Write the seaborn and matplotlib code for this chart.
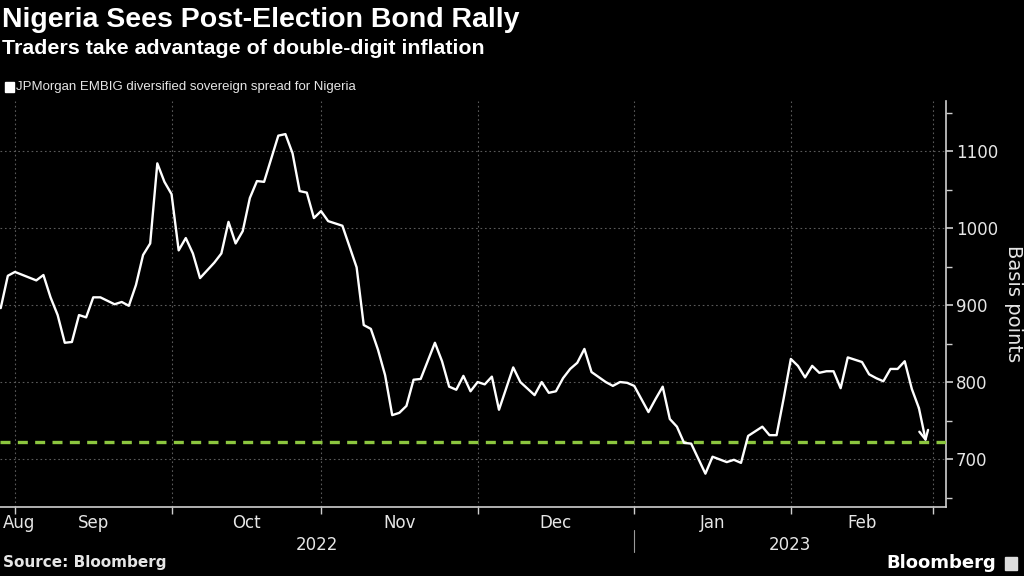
import numpy as np
import pandas as pd
import seaborn as sns
import matplotlib.pyplot as plt
from matplotlib.patches import Rectangle
from matplotlib.lines import Line2D
from matplotlib.ticker import FixedLocator, NullFormatter

# JPMorgan EMBIG diversified sovereign spread for Nigeria (basis points)
dates = [
    "2022-08-30", "2022-08-31", "2022-09-01", "2022-09-06", "2022-09-07", "2022-09-08",
    "2022-09-09", "2022-09-12", "2022-09-13", "2022-09-14", "2022-09-15", "2022-09-16",
    "2022-09-19", "2022-09-21", "2022-09-22", "2022-09-23", "2022-09-26", "2022-09-27",
    "2022-09-28", "2022-09-29", "2022-09-30", "2022-10-03", "2022-10-04", "2022-10-05",
    "2022-10-06", "2022-10-07", "2022-10-11", "2022-10-12", "2022-10-13", "2022-10-14",
    "2022-10-17", "2022-10-18", "2022-10-19", "2022-10-20", "2022-10-24", "2022-10-25",
    "2022-10-26", "2022-10-27", "2022-10-28", "2022-10-31", "2022-11-01", "2022-11-02",
    "2022-11-03", "2022-11-04", "2022-11-08", "2022-11-09", "2022-11-10", "2022-11-11",
    "2022-11-14", "2022-11-15", "2022-11-16", "2022-11-17", "2022-11-18", "2022-11-21",
    "2022-11-23", "2022-11-24", "2022-11-25", "2022-11-28", "2022-11-29", "2022-11-30",
    "2022-12-01", "2022-12-02", "2022-12-05", "2022-12-06", "2022-12-08", "2022-12-09",
    "2022-12-13", "2022-12-14", "2022-12-15", "2022-12-16", "2022-12-19", "2022-12-20",
    "2022-12-21", "2022-12-22", "2022-12-23", "2022-12-27", "2022-12-28", "2022-12-29",
    "2022-12-30", "2023-01-02", "2023-01-03", "2023-01-04", "2023-01-05", "2023-01-06",
    "2023-01-09", "2023-01-10", "2023-01-11", "2023-01-12", "2023-01-16", "2023-01-17",
    "2023-01-19", "2023-01-20", "2023-01-23", "2023-01-24", "2023-01-26", "2023-01-27",
    "2023-01-30", "2023-01-31", "2023-02-01", "2023-02-02", "2023-02-03", "2023-02-06",
    "2023-02-07", "2023-02-08", "2023-02-09", "2023-02-10", "2023-02-13", "2023-02-15",
    "2023-02-16", "2023-02-17", "2023-02-20", "2023-02-21", "2023-02-22", "2023-02-23",
    "2023-02-24", "2023-02-27", "2023-02-28",
]
spread = [
    896, 938, 943, 932, 939, 910,
    887, 851, 852, 887, 884, 910,
    910, 901, 904, 899, 926, 965,
    980, 1084, 1060, 1044, 971, 987,
    967, 935, 955, 967, 1008, 980,
    996, 1039, 1061, 1060, 1120, 1122,
    1097, 1048, 1046, 1013, 1022, 1009,
    1006, 1003, 949, 874, 869, 842,
    809, 757, 760, 769, 803, 804,
    851, 827, 794, 790, 808, 788,
    800, 797, 807, 764, 819, 800,
    783, 800, 786, 788, 805, 817,
    825, 843, 813, 800, 795, 800,
    799, 795, 778, 761, 778, 794,
    752, 742, 721, 720, 681, 703,
    696, 699, 695, 730, 742, 731,
    731, 779, 830, 821, 806, 821,
    812, 814, 814, 792, 832, 826,
    810, 805, 801, 817, 817, 827,
    791, 766, 722,
]
current_level = 722

month_starts = ["2022-08-01", "2022-09-01", "2022-10-01", "2022-11-01", "2022-12-01",
                "2023-01-01", "2023-02-01", "2023-03-01"]
month_labels = ["Aug", "Sep", "Oct", "Nov", "Dec", "Jan", "Feb"]
year_labels = ["2022", "2023"]
y_major = [700, 800, 900, 1000, 1100]
y_minor = [650, 750, 850, 950, 1050, 1150]

FG = "#e6e6e6"
GRID = "#5a5a5a"
GREEN = "#8cc63f"
HEAD = "Liberation Sans"

sns.set_style("dark", {"axes.facecolor": "black", "figure.facecolor": "black"})
plt.rcParams["font.family"] = ["DejaVu Sans"]

# x is measured in business days since the first observation
origin = dates[0]
x = np.busday_count(origin, dates)
df = pd.DataFrame({"x": x, "spread": spread})
bounds = np.busday_count(origin, month_starts)

fig = plt.figure(figsize=(10.24, 5.76), dpi=100)
ax = fig.add_axes([0.0, 1 - 507 / 576, 946 / 1024, (507 - 101) / 576])
ax.set_facecolor("black")

xmin, xmax = -0.1, 132.8
ax.set_xlim(xmin, xmax)
ax.set_ylim(637.7, 1165)

sns.lineplot(data=df.iloc[:-1], x="x", y="spread", ax=ax, color="white", lw=1.7, zorder=4)
ax.annotate("", xy=(df.x.iloc[-1], df.spread.iloc[-1]),
            xytext=(df.x.iloc[-2], df.spread.iloc[-2]),
            arrowprops=dict(arrowstyle="->", color="white", lw=1.7,
                            mutation_scale=16, shrinkA=0, shrinkB=0), zorder=5)
ax.axhline(current_level, color=GREEN, lw=2.4, ls=(0, (3.0, 2.2)), zorder=3)

# grid
for v in y_major:
    ax.axhline(v, color=GRID, lw=0.8, ls=(0, (1.5, 2.5)), zorder=1)
for b in bounds:
    if xmin < b < xmax:
        ax.axvline(b, color=GRID, lw=0.8, ls=(0, (1.5, 2.5)), zorder=1)

# axes styling
for side in ["left", "top"]:
    ax.spines[side].set_visible(False)
for side in ["right", "bottom"]:
    ax.spines[side].set_visible(True)
    ax.spines[side].set_color("#cfcfcf")
    ax.spines[side].set_linewidth(1.2)

ax.yaxis.tick_right()
ax.yaxis.set_major_locator(FixedLocator(y_major))
ax.yaxis.set_minor_locator(FixedLocator(y_minor))
ax.tick_params(axis="y", which="major", right=True, length=5, width=1.2, color="#cfcfcf",
               labelcolor=FG, labelsize=12, pad=2)
ax.tick_params(axis="y", which="minor", right=True, length=4, width=1, color="#cfcfcf")

ax.xaxis.set_major_locator(FixedLocator([b for b in bounds if xmin < b < xmax]))
ax.xaxis.set_major_formatter(NullFormatter())
ax.tick_params(axis="x", which="major", bottom=True, length=5, width=1, color="#cfcfcf")
ax.set_xlabel("")
ax.yaxis.set_label_position("right")
ax.set_ylabel("Basis points", color=FG, fontsize=14, rotation=-90, labelpad=18)

# month labels centred in each month, the first one pinned to the left edge
trans = ax.get_xaxis_transform()
for i, lab in enumerate(month_labels):
    lo, hi = max(bounds[i], xmin), min(bounds[i + 1], xmax)
    if hi - lo < 8:
        ax.text(xmin + 0.35, -0.04, lab, transform=trans, ha="left", va="center",
                color=FG, fontsize=12)
    else:
        ax.text((lo + hi) / 2, -0.04, lab, transform=trans, ha="center", va="center",
                color=FG, fontsize=12)

jan = bounds[month_starts.index("2023-01-01")]
ax.text((xmin + jan) / 2, -0.094, year_labels[0], transform=trans, ha="center",
        va="center", color=FG, fontsize=12)
ax.text((jan + xmax) / 2, -0.094, year_labels[1], transform=trans, ha="center",
        va="center", color=FG, fontsize=12)
ax.add_line(Line2D([jan, jan], [-0.057, -0.112], transform=trans, color="#9a9a9a",
                   lw=0.8, clip_on=False))

# header and footer
fig.text(0.002, 1 - 7 / 576, "Nigeria Sees Post-Election Bond Rally", color="white",
         fontsize=20.5, fontweight="bold", va="top", ha="left", family=HEAD)
fig.text(0.002, 1 - 39 / 576, "Traders take advantage of double-digit inflation",
         color="white", fontsize=15.4, fontweight="bold", va="top", ha="left", family=HEAD)
fig.patches.append(Rectangle((5 / 1024, 1 - 92 / 576), 9 / 1024, 10 / 576,
                             transform=fig.transFigure, color="white"))
fig.text(16 / 1024, 1 - 87 / 576, "JPMorgan EMBIG diversified sovereign spread for Nigeria",
         color=FG, fontsize=9.5, va="center", ha="left", family=HEAD)
fig.text(0.003, 1 - 563 / 576, "Source: Bloomberg", color=FG, fontsize=11,
         fontweight="bold", va="center", ha="left")
fig.text(996 / 1024, 1 - 563 / 576, "Bloomberg", color="white", fontsize=13,
         fontweight="bold", va="center", ha="right")
fig.patches.append(Rectangle((1005 / 1024, 1 - 570 / 576), 12 / 1024, 13 / 576,
                             transform=fig.transFigure, color="#dddddd"))

fig.savefig("out.png", dpi=100, facecolor="black")
